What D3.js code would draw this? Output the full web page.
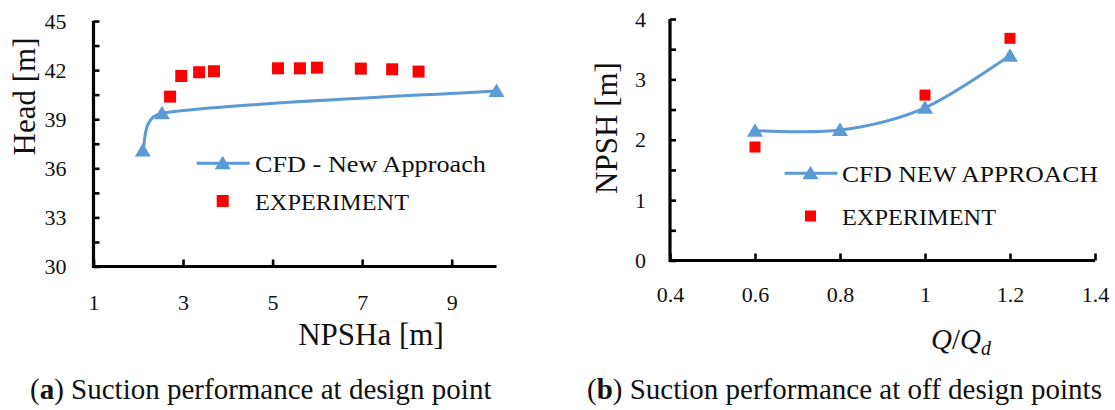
<!DOCTYPE html>
<html>
<head>
<meta charset="utf-8">
<script src="https://cdn.jsdelivr.net/npm/d3@7"></script>
<style>
  html, body { margin: 0; padding: 0; background: #fff; }
  svg { display: block; }
  svg text { font-family: "Liberation Serif", "Times New Roman", serif !important; fill: #111; }
</style>
</head>
<body>
<svg id="chart" width="1115" height="410"></svg>
<script>
// ---------- Data: (a) design point ----------
const cfdNpsha = [2.10, 2.53, 10.0];
const cfdHead = [37.08, 39.36, 40.73];
const expNpsha = [2.71, 2.96, 3.36, 3.69, 5.12, 5.61, 5.99, 6.97, 7.67, 8.26];
const expHead = [40.38, 41.64, 41.87, 41.93, 42.11, 42.11, 42.15, 42.09, 42.05, 41.91];
const leftXTicks = [1, 3, 5, 7, 9];
const leftYTicks = [30, 31.5, 33, 34.5, 36, 37.5, 39, 40.5, 42, 43.5, 45];
const leftYLabels = [30, 33, 36, 39, 42, 45];

// ---------- Data: (b) off design points ----------
const cfdQ = [0.6, 0.8, 1.0, 1.2];
const cfdNpsh = [2.15, 2.16, 2.53, 3.39];
const expQ = [0.6, 1.0, 1.2];
const expNpsh = [1.88, 2.74, 3.68];
const rightXTicks = [0.4, 0.6, 0.8, 1.0, 1.2, 1.4];
const rightYTicks = [0, 0.5, 1, 1.5, 2, 2.5, 3, 3.5, 4];
const rightYLabels = [0, 1, 2, 3, 4];

const BLUE = "#5B9BD5";
const RED = "#FF0000";
const SERIF = "'Liberation Serif', 'Times New Roman', serif";
const svg = d3.select("#chart");

const triPath = "M0,-7.5 L8,6 L-8,6 Z";

// Spreadsheet-style smoothed line (Bezier with clamped 1/6 tangents)
function SmoothCurve(context) { this._context = context; }
SmoothCurve.prototype = {
  areaStart() {}, areaEnd() {},
  lineStart() { this._pts = []; },
  point(x, y) { this._pts.push([+x, +y]); },
  lineEnd() {
    const p = this._pts, c = this._context, n = p.length;
    if (!n) return;
    c.moveTo(p[0][0], p[0][1]);
    if (n === 2) { c.lineTo(p[1][0], p[1][1]); return; }
    const clamp = (v, maxLen) => {
      const L = Math.hypot(v[0], v[1]);
      return L > maxLen && L > 0 ? [v[0] * maxLen / L, v[1] * maxLen / L] : v;
    };
    for (let i = 0; i < n - 1; i++) {
      const P0 = p[Math.max(i - 1, 0)], P1 = p[i], P2 = p[i + 1], P3 = p[Math.min(i + 2, n - 1)];
      const d12 = Math.hypot(P2[0] - P1[0], P2[1] - P1[1]);
      const v1 = clamp([(P2[0] - P0[0]) / 6, (P2[1] - P0[1]) / 6], d12 / 2);
      const v2 = clamp([(P3[0] - P1[0]) / 6, (P3[1] - P1[1]) / 6], d12 / 2);
      c.bezierCurveTo(P1[0] + v1[0], P1[1] + v1[1], P2[0] - v2[0], P2[1] - v2[1], P2[0], P2[1]);
    }
  }
};
const curveSmooth = ctx => new SmoothCurve(ctx);

function drawPanel(cfg) {
  const g = svg.append("g");
  const x = d3.scaleLinear().domain(cfg.xDomain).range(cfg.xRange);
  const y = d3.scaleLinear().domain(cfg.yDomain).range(cfg.yRange);

  // y axis
  const yAxis = d3.axisLeft(y)
    .tickValues(cfg.yTicks)
    .tickSize(-6).tickSizeOuter(0)
    .tickPadding(cfg.yPad)
    .tickFormat(d => cfg.yLabels.includes(d) ? d3.format("")(d) : "");
  const ya = g.append("g").attr("transform", `translate(${cfg.xRange[0]},0)`).call(yAxis)
    .attr("font-family", null).attr("font-size", null);
  ya.select(".domain").remove();
  ya.selectAll(".tick line").attr("stroke", "#000").attr("stroke-width", 2.6);
  ya.selectAll(".tick text").style("font-size", "22px").style("font-family", SERIF).attr("fill", "#111");

  // x axis
  const xAxis = d3.axisBottom(x)
    .tickValues(cfg.xTicks)
    .tickSize(-7).tickSizeOuter(0)
    .tickFormat(d3.format(""));
  const xa = g.append("g").attr("transform", `translate(0,${cfg.yRange[0]})`).call(xAxis)
    .attr("font-family", null).attr("font-size", null);
  xa.select(".domain").remove();
  xa.selectAll(".tick line").attr("stroke", "#000").attr("stroke-width", 2.6);
  xa.selectAll(".tick text").style("font-size", "22px").style("font-family", SERIF).attr("fill", "#111")
    .attr("dy", null).attr("y", cfg.xLabelOffset);

  // axis lines (L-shape)
  g.append("path")
    .attr("d", `M${cfg.xRange[0]},${cfg.yRange[1]} V${cfg.yRange[0]} H${cfg.xRange[1]}`)
    .attr("fill", "none").attr("stroke", "#000").attr("stroke-width", 3.2)
    .attr("stroke-linejoin", "miter").attr("stroke-linecap", "butt");

  // CFD line
  const line = d3.line().x(d => x(d[0])).y(d => y(d[1])).curve(curveSmooth);
  const cfdPts = cfg.cfdX.map((v, i) => [v, cfg.cfdY[i]]);
  g.append("path").attr("d", line(cfdPts))
    .attr("fill", "none").attr("stroke", BLUE).attr("stroke-width", 3);
  g.selectAll(".tri").data(cfdPts).enter().append("path")
    .attr("d", triPath)
    .attr("transform", d => `translate(${x(d[0])},${y(d[1])})`)
    .attr("fill", BLUE);

  // experiment squares
  const expPts = cfg.expX.map((v, i) => [v, cfg.expY[i]]);
  const s = cfg.sq;
  g.selectAll(".sq").data(expPts).enter().append("rect")
    .attr("x", d => x(d[0]) - s / 2).attr("y", d => y(d[1]) - s / 2)
    .attr("width", s).attr("height", s).attr("fill", RED);

  // legend
  const L = cfg.legend;
  g.append("line").attr("x1", L.x - 26).attr("x2", L.x + 27)
    .attr("y1", L.y1).attr("y2", L.y1).attr("stroke", BLUE).attr("stroke-width", 3);
  g.append("path").attr("d", triPath).attr("transform", `translate(${L.x},${L.y1})`).attr("fill", BLUE);
  g.append("text").attr("x", L.tx).attr("y", L.y1 + 8.5).style("font-size", "24px")
    .attr("textLength", L.w1).attr("lengthAdjust", "spacingAndGlyphs").text(L.t1);
  g.append("rect").attr("x", L.x - s / 2).attr("y", L.y2 - s / 2)
    .attr("width", s).attr("height", s).attr("fill", RED);
  g.append("text").attr("x", L.tx).attr("y", L.y2 + 8.5).style("font-size", "24px")
    .attr("textLength", L.w2).attr("lengthAdjust", "spacingAndGlyphs").text(L.t2);
  return g;
}

drawPanel({
  xDomain: [1, 10], xRange: [93.5, 496.5],
  yDomain: [30, 45], yRange: [266.5, 21],
  xTicks: leftXTicks, yTicks: leftYTicks, yLabels: leftYLabels,
  yPad: 27, xLabelOffset: 43.5,
  cfdX: cfdNpsha, cfdY: cfdHead, expX: expNpsha, expY: expHead,
  sq: 12,
  legend: { x: 222.7, y1: 163.3, y2: 201, tx: 255, t1: "CFD - New Approach", t2: "EXPERIMENT", w1: 231, w2: 154 }
});

drawPanel({
  xDomain: [0.4, 1.4], xRange: [670, 1095],
  yDomain: [0, 4], yRange: [260.5, 19],
  xTicks: rightXTicks, yTicks: rightYTicks, yLabels: rightYLabels,
  yPad: 24, xLabelOffset: 41.5,
  cfdX: cfdQ, cfdY: cfdNpsh, expX: expQ, expY: expNpsh,
  sq: 11,
  legend: { x: 810.5, y1: 173.3, y2: 216, tx: 842, t1: "CFD NEW APPROACH", t2: "EXPERIMENT", w1: 256, w2: 154 }
});

// axis titles
svg.append("text").attr("transform", "translate(35,96.5) rotate(-90)")
  .attr("text-anchor", "middle").style("font-size", "31px").text("Head [m]");
svg.append("text").attr("x", 371).attr("y", 345)
  .attr("text-anchor", "middle").style("font-size", "31px").text("NPSHa [m]");
svg.append("text").attr("transform", "translate(617,128) rotate(-90)")
  .attr("text-anchor", "middle").style("font-size", "31px").text("NPSH [m]");

const qt = svg.append("text").attr("x", 961).attr("y", 349)
  .attr("text-anchor", "middle").style("font-size", "29px");
qt.append("tspan").attr("font-style", "italic").text("Q");
qt.append("tspan").text("/");
qt.append("tspan").attr("font-style", "italic").text("Q");
qt.append("tspan").attr("font-style", "italic").style("font-size", "20px").attr("dy", 6).text("d");

// captions
function caption(xPos, letter, rest) {
  const t = svg.append("text").attr("x", xPos).attr("y", 399).style("font-size", "29px");
  t.append("tspan").text("(");
  t.append("tspan").attr("font-weight", "bold").text(letter);
  t.append("tspan").text(")" + rest);
}
caption(30, "a", " Suction performance at design point");
caption(587, "b", " Suction performance at off design points");
</script>
</body>
</html>
